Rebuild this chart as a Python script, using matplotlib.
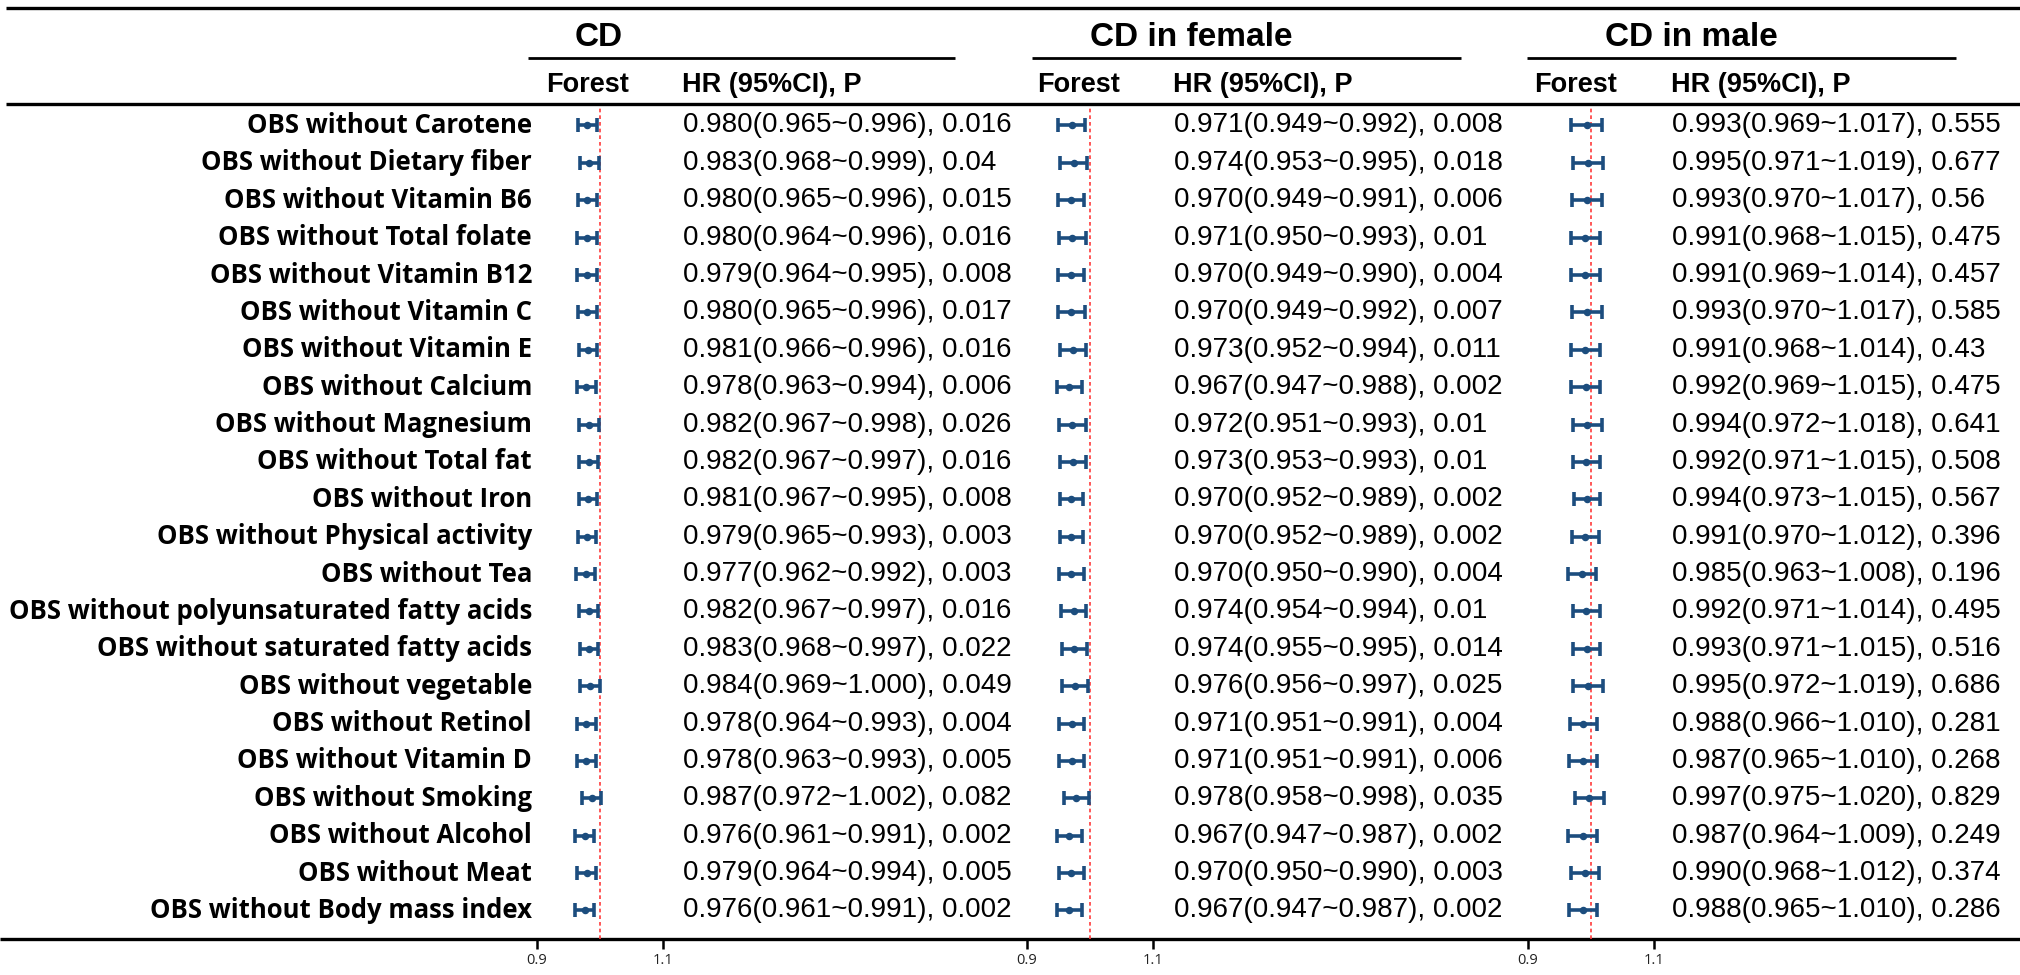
import matplotlib
matplotlib.use('Agg')
import matplotlib.pyplot as plt

# ---- data ----
labels = ['OBS without Carotene', 'OBS without Dietary fiber', 'OBS without Vitamin B6',
          'OBS without Total folate', 'OBS without Vitamin B12', 'OBS without Vitamin C',
          'OBS without Vitamin E', 'OBS without Calcium', 'OBS without Magnesium',
          'OBS without Total fat', 'OBS without Iron', 'OBS without Physical activity',
          'OBS without Tea', 'OBS without polyunsaturated fatty acids',
          'OBS without saturated fatty acids', 'OBS without vegetable', 'OBS without Retinol',
          'OBS without Vitamin D', 'OBS without Smoking', 'OBS without Alcohol',
          'OBS without Meat', 'OBS without Body mass index']

panel_titles = ['CD', 'CD in female', 'CD in male']

cd_hr = [0.980, 0.983, 0.980, 0.980, 0.979, 0.980, 0.981, 0.978, 0.982, 0.982, 0.981,
         0.979, 0.977, 0.982, 0.983, 0.984, 0.978, 0.978, 0.987, 0.976, 0.979, 0.976]
cd_lo = [0.965, 0.968, 0.965, 0.964, 0.964, 0.965, 0.966, 0.963, 0.967, 0.967, 0.967,
         0.965, 0.962, 0.967, 0.968, 0.969, 0.964, 0.963, 0.972, 0.961, 0.964, 0.961]
cd_hi = [0.996, 0.999, 0.996, 0.996, 0.995, 0.996, 0.996, 0.994, 0.998, 0.997, 0.995,
         0.993, 0.992, 0.997, 0.997, 1.000, 0.993, 0.993, 1.002, 0.991, 0.994, 0.991]
cd_p = ['0.016', '0.04', '0.015', '0.016', '0.008', '0.017', '0.016', '0.006', '0.026',
        '0.016', '0.008', '0.003', '0.003', '0.016', '0.022', '0.049', '0.004', '0.005',
        '0.082', '0.002', '0.005', '0.002']

fem_hr = [0.971, 0.974, 0.970, 0.971, 0.970, 0.970, 0.973, 0.967, 0.972, 0.973, 0.970,
          0.970, 0.970, 0.974, 0.974, 0.976, 0.971, 0.971, 0.978, 0.967, 0.970, 0.967]
fem_lo = [0.949, 0.953, 0.949, 0.950, 0.949, 0.949, 0.952, 0.947, 0.951, 0.953, 0.952,
          0.952, 0.950, 0.954, 0.955, 0.956, 0.951, 0.951, 0.958, 0.947, 0.950, 0.947]
fem_hi = [0.992, 0.995, 0.991, 0.993, 0.990, 0.992, 0.994, 0.988, 0.993, 0.993, 0.989,
          0.989, 0.990, 0.994, 0.995, 0.997, 0.991, 0.991, 0.998, 0.987, 0.990, 0.987]
fem_p = ['0.008', '0.018', '0.006', '0.01', '0.004', '0.007', '0.011', '0.002', '0.01',
         '0.01', '0.002', '0.002', '0.004', '0.01', '0.014', '0.025', '0.004', '0.006',
         '0.035', '0.002', '0.003', '0.002']

male_hr = [0.993, 0.995, 0.993, 0.991, 0.991, 0.993, 0.991, 0.992, 0.994, 0.992, 0.994,
           0.991, 0.985, 0.992, 0.993, 0.995, 0.988, 0.987, 0.997, 0.987, 0.990, 0.988]
male_lo = [0.969, 0.971, 0.970, 0.968, 0.969, 0.970, 0.968, 0.969, 0.972, 0.971, 0.973,
           0.970, 0.963, 0.971, 0.971, 0.972, 0.966, 0.965, 0.975, 0.964, 0.968, 0.965]
male_hi = [1.017, 1.019, 1.017, 1.015, 1.014, 1.017, 1.014, 1.015, 1.018, 1.015, 1.015,
           1.012, 1.008, 1.014, 1.015, 1.019, 1.010, 1.010, 1.020, 1.009, 1.012, 1.010]
male_p = ['0.555', '0.677', '0.56', '0.475', '0.457', '0.585', '0.43', '0.475', '0.641',
          '0.508', '0.567', '0.396', '0.196', '0.495', '0.516', '0.686', '0.281', '0.268',
          '0.829', '0.249', '0.374', '0.286']

ticks = [0.9, 1.1]
ref_value = 1.0

panels = [(cd_hr, cd_lo, cd_hi, cd_p),
          (fem_hr, fem_lo, fem_hi, fem_p),
          (male_hr, male_lo, male_hi, male_p)]

# ---- layout (pixels of a 2020x975 canvas) ----
W, H = 2020, 975
ROW0, ROW_H = 125.5, 37.38
LINE_COL = 'black'
CI_COL = '#1c4d7e'
REF_COL = '#ff3b3b'

tick09_px = [537, 1027, 1528]      # where 0.9 sits in each panel
px_per_unit = 630.0
title_x = [599, 1191, 1691]
rule_x = [(528, 955), (1032, 1461), (1527, 1956)]
forest_x = [588, 1079, 1576]
hr_x = [682, 1173, 1671]


def row_y(py):
    return (py - ROW0) / ROW_H


fig = plt.figure(figsize=(W / 100, H / 100), dpi=100)
ax = fig.add_axes([0, 0, 1, 1])
ax.set_xlim(0, W)
ax.set_ylim(row_y(H), row_y(0))
ax.axis('off')

head_font = 'Liberation Sans'
lab_font = 'Open Sans'

# horizontal rules
ax.hlines(row_y(8), 6, W, color=LINE_COL, lw=2.4)
ax.hlines(row_y(104), 6, W, color=LINE_COL, lw=2.4)
ax.hlines(row_y(939), 0, W, color=LINE_COL, lw=2.4)

for k in range(3):
    ax.text(title_x[k], row_y(38), panel_titles[k], ha='center', va='center',
            fontsize=24, fontweight='bold', family=head_font)
    ax.hlines(row_y(58), rule_x[k][0], rule_x[k][1], color=LINE_COL, lw=2.0)
    ax.text(forest_x[k], row_y(85), 'Forest', ha='center', va='center',
            fontsize=19.5, fontweight='bold', family=head_font)
    ax.text(hr_x[k], row_y(85), 'HR (95%CI), P', ha='left', va='center',
            fontsize=19.5, fontweight='bold', family=head_font)

for i, lab in enumerate(labels):
    ax.text(532, i, lab, ha='right', va='center', fontsize=18.5,
            fontweight='bold', family=lab_font)

for k, (hr, lo, hi, p) in enumerate(panels):
    for i in range(len(labels)):
        txt = '%.3f(%.3f~%.3f), %s' % (hr[i], lo[i], hi[i], p[i])
        ax.text(hr_x[k] + 1, i, txt, ha='left', va='center', fontsize=20,
                family=head_font)

# forest axes
x_lo, x_hi = 0.88, 1.12
top_px, bot_px = 107, 939
for k, (hr, lo, hi, p) in enumerate(panels):
    left_px = tick09_px[k] - (0.9 - x_lo) * px_per_unit
    width_px = (x_hi - x_lo) * px_per_unit
    fax = fig.add_axes([left_px / W, (H - bot_px) / H, width_px / W, (bot_px - top_px) / H])
    fax.set_xlim(x_lo, x_hi)
    fax.set_ylim(row_y(bot_px), row_y(top_px))
    fax.patch.set_alpha(0)
    for s in fax.spines.values():
        s.set_visible(False)
    fax.axvline(ref_value, color=REF_COL, lw=1.2, ls=(0, (2.2, 1.8)))
    rows = list(range(len(hr)))
    xerr = [[h - l for h, l in zip(hr, lo)], [u - h for h, u in zip(hr, hi)]]
    fax.errorbar(hr, rows, xerr=xerr, fmt='o', color=CI_COL, ms=4.4,
                 elinewidth=2.6, capsize=4.8, capthick=2.6)
    fax.set_yticks([])
    fax.set_xticks(ticks)
    fax.set_xticklabels(['%.1f' % t for t in ticks], family=lab_font, fontsize=10.5)
    fax.tick_params(axis='x', direction='out', length=7, width=1.8, pad=3,
                    labelcolor='#222222')

fig.savefig('out.png', dpi=100)
